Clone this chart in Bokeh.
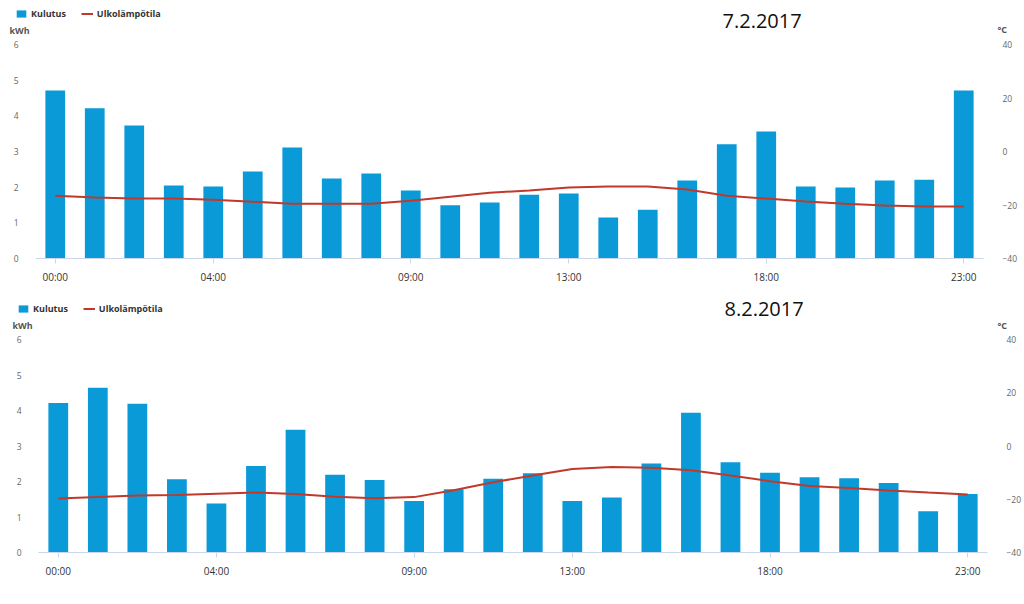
from bokeh.plotting import figure
from bokeh.models import (Range1d, LinearAxis, FixedTicker, Label, Legend, LegendItem,
                          ColumnDataSource)
from bokeh.layouts import column
from bokeh.embed import file_html
from bokeh.resources import INLINE

hours = ["00:00", "01:00", "02:00", "03:00", "04:00", "05:00", "06:00", "07:00",
         "08:00", "09:00", "10:00", "11:00", "12:00", "13:00", "14:00", "15:00",
         "16:00", "17:00", "18:00", "19:00", "20:00", "21:00", "22:00", "23:00"]
tick_labels = ["00:00", "04:00", "09:00", "13:00", "18:00", "23:00"]

kwh_day1 = [4.71, 4.21, 3.73, 2.05, 2.02, 2.44, 3.11, 2.24, 2.38, 1.91, 1.49, 1.57,
            1.79, 1.82, 1.15, 1.37, 2.19, 3.20, 3.56, 2.02, 1.99, 2.19, 2.21, 4.71]
temp_day1 = [-16.5, -17.2, -17.6, -17.6, -18.0, -18.8, -19.5, -19.5, -19.5, -18.4, -16.9, -15.4,
             -14.6, -13.5, -13.1, -13.1, -14.2, -16.5, -17.6, -18.7, -19.5, -20.2, -20.6, -20.6]

kwh_day2 = [4.21, 4.64, 4.19, 2.06, 1.38, 2.44, 3.46, 2.19, 2.04, 1.45, 1.78, 2.08,
            2.23, 1.45, 1.55, 2.51, 3.94, 2.54, 2.25, 2.12, 2.09, 1.96, 1.16, 1.65]
temp_day2 = [-19.7, -19.2, -18.6, -18.4, -17.9, -17.5, -18.0, -19.1, -19.6, -19.2, -16.6, -13.6,
             -11.1, -8.6, -7.9, -8.2, -9.1, -11.1, -13.2, -15.0, -15.8, -16.7, -17.5, -18.2]

dates = ["7.2.2017", "8.2.2017"]
series_names = ["Kulutus", "Ulkolämpötila"]
unit_left = "kWh"
unit_right = "°C"
kwh_ticks = [0, 1, 2, 3, 4, 5, 6]
temp_ticks = [-40, -20, 0, 20, 40]

BAR = "#0b9ad8"
LINE = "#c0392b"
FONT = "Open Sans"
W = 1024


def make_header(h, date, leg_xy, kwh_xy, deg_xy, date_xy):
    """Strip above a chart that carries legend, units and date (y grows downwards)."""
    p = figure(width=W, height=h, output_backend="svg", toolbar_location=None,
               x_range=Range1d(0, W), y_range=Range1d(h, 0),
               x_axis_type=None, y_axis_type=None, frame_align=False,
               min_border_left=0, min_border_right=0, min_border_top=0, min_border_bottom=0)
    p.outline_line_color = None
    p.xgrid.visible = False
    p.ygrid.visible = False

    for txt, (cx, cy), size, style, col in [
        (unit_left, kwh_xy, "9px", "bold", "#555555"),
        (unit_right, deg_xy, "9px", "bold", "#555555"),
        (date, date_xy, "20px", "normal", "#111111"),
    ]:
        p.add_layout(Label(x=cx, y=cy, text=txt, text_font=FONT, text_font_size=size,
                           text_font_style=style, text_color=col, text_baseline="middle"))

    # legend swatches: renderers styled like the chart series, holding no visible point
    proxy = ColumnDataSource(dict(x=[float("nan")], top=[float("nan")], y=[float("nan")]))
    r_bar = p.vbar(x="x", top="top", width=0.5, source=proxy, color=BAR, line_color=None)
    r_line = p.line(x="x", y="y", source=proxy, color=LINE, line_width=2)
    lx, ly = leg_xy
    legend = Legend(items=[LegendItem(label=series_names[0], renderers=[r_bar]),
                           LegendItem(label=series_names[1], renderers=[r_line])],
                    orientation="horizontal", location=(lx, h - (ly + 5)),
                    padding=0, margin=0, spacing=15, label_standoff=4,
                    glyph_width=12, glyph_height=9, label_height=10,
                    label_text_font=FONT, label_text_font_size="9px",
                    label_text_font_style="bold", label_text_color="#333333",
                    border_line_color=None, background_fill_alpha=0)
    p.add_layout(legend, "center")
    return p


def make_chart(kwh, temp, left, right, top, bottom, height):
    p = figure(width=W, height=height, output_backend="svg", toolbar_location=None,
               x_range=Range1d(-0.5, len(hours) - 0.5), y_range=Range1d(0, 6),
               frame_align=False,
               min_border_left=left, min_border_right=right,
               min_border_top=top, min_border_bottom=bottom)
    p.outline_line_color = None
    p.xgrid.visible = False
    p.ygrid.visible = False
    p.extra_y_ranges = {"temp": Range1d(-40, 40)}

    idx = [hours.index(h) for h in hours]
    src = ColumnDataSource(dict(x=idx, kwh=kwh, temp=temp))
    p.vbar(x="x", top="kwh", width=0.5, source=src, color=BAR, line_color=None)
    p.line(x="x", y="temp", source=src, y_range_name="temp", color=LINE, line_width=2)

    xa = p.xaxis[0]
    xa.ticker = FixedTicker(ticks=[hours.index(t) for t in tick_labels])
    xa.major_label_overrides = {hours.index(t): t for t in tick_labels}
    xa.axis_line_color = "#ccd6eb"
    xa.major_tick_line_color = "#ccd6eb"
    xa.major_tick_out = 5
    xa.major_tick_in = 0
    xa.minor_tick_line_color = None
    xa.major_label_text_font = FONT
    xa.major_label_text_font_size = "10px"
    xa.major_label_text_color = "#333333"
    xa.major_label_standoff = 6

    ya = p.yaxis[0]
    ya.ticker = FixedTicker(ticks=kwh_ticks)
    ya.axis_line_color = None
    ya.major_tick_line_color = None
    ya.minor_tick_line_color = None
    ya.major_label_text_font = FONT
    ya.major_label_text_font_size = "8.5px"
    ya.major_label_text_color = "#666666"
    ya.major_label_standoff = 11

    ra = LinearAxis(y_range_name="temp", ticker=FixedTicker(ticks=temp_ticks))
    ra.axis_line_color = None
    ra.major_tick_line_color = None
    ra.minor_tick_line_color = None
    ra.major_label_text_font = FONT
    ra.major_label_text_font_size = "8.5px"
    ra.major_label_text_color = "#666666"
    ra.major_label_standoff = 13
    p.add_layout(ra, "right")
    return p


h1 = make_header(38, dates[0], leg_xy=(15, 15), kwh_xy=(9, 30), deg_xy=(997, 29),
                 date_xy=(722, 20))
c1 = make_chart(kwh_day1, temp_day1, 35, 41, 6, 32, 252)
h2 = make_header(43, dates[1], leg_xy=(17, 20), kwh_xy=(12, 35), deg_xy=(997, 35),
                 date_xy=(724, 18))
c2 = make_chart(kwh_day2, temp_day2, 38, 33, 6, 52, 271)

layout = column(h1, c1, h2, c2, spacing=0)
open("out.html", "w").write(file_html(layout, INLINE))
